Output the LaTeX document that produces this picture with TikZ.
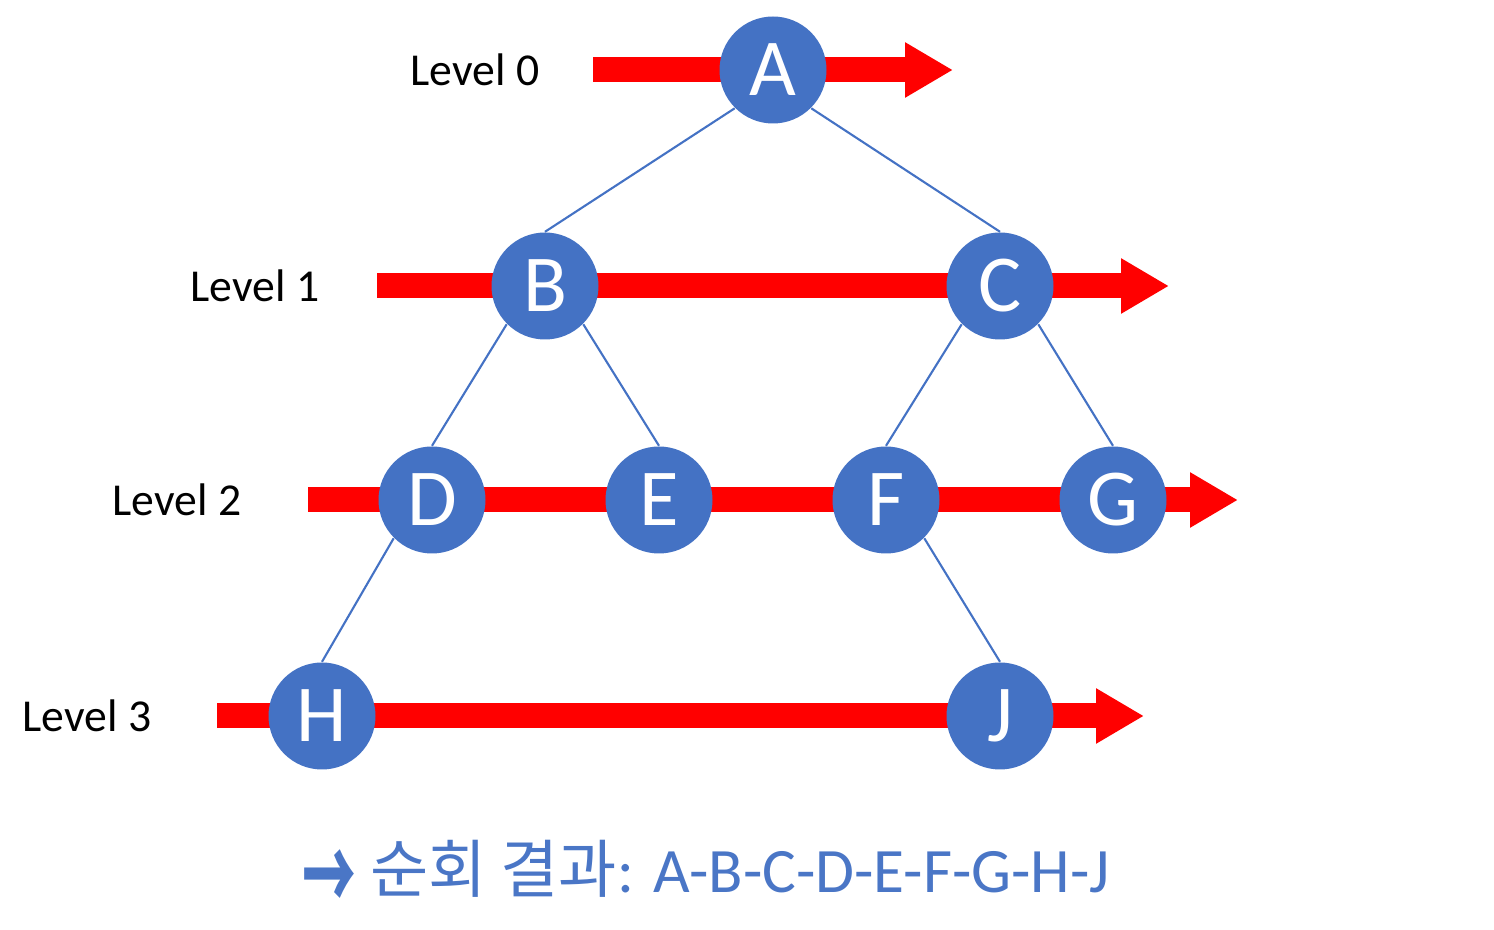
\documentclass[tikz,border=0pt]{standalone}
\usepackage{fontspec}
\setmainfont{Carlito}
\newfontfamily\krfont{Noto Sans CJK KR}
\usepackage{tikz}
\usepackage{xcolor}
\usetikzlibrary{positioning,arrows.meta}
\definecolor{nodeblue}{HTML}{4472C4}
\definecolor{textblue}{HTML}{4A76C6}
\definecolor{levelred}{HTML}{FF0000}
\tikzset{
    vertex/.style={
        circle, fill=nodeblue,
        minimum size=1.07cm, inner sep=0pt,
        text=white, font=\fontsize{23}{26}\selectfont
    },
    levelarrow/.style={
        draw=levelred, line width=0.25cm,
        -{Triangle[length=0.48cm,width=0.52cm]}
    },
    levellabel/.style={
        inner sep=0pt, font=\fontsize{13}{16}\selectfont
    },
    treeedge/.style={
        draw=nodeblue, line width=0.6pt
    }
}
\begin{document}
\begin{tikzpicture}[x=1cm, y=1cm]
        \useasboundingbox (0,0) rectangle (14.94,-9.30);

        % Level arrows
        \coordinate (l0s) at (5.93,-0.70);
        \coordinate (l0e) at (9.53,-0.70);
        \coordinate (l1s) at (3.77,-2.86);
        \coordinate (l1e) at (11.69,-2.86);
        \coordinate (l2s) at (3.08,-5.00);
        \coordinate (l2e) at (12.38,-5.00);
        \coordinate (l3s) at (2.17,-7.16);
        \coordinate (l3e) at (11.44,-7.16);

        \draw[levelarrow] (l0s) -- (l0e);
        \draw[levelarrow] (l1s) -- (l1e);
        \draw[levelarrow] (l2s) -- (l2e);
        \draw[levelarrow] (l3s) -- (l3e);

        % Level labels
        \node[levellabel, left=0.53cm of l0s] (lab0) {Level 0};
        \node[levellabel, left=0.57cm of l1s] (lab1) {Level 1};
        \node[levellabel, left=0.66cm of l2s] (lab2) {Level 2};
        \node[levellabel, left=0.65cm of l3s] (lab3) {Level 3};

        % Tree nodes
        \node[vertex] (A) at (7.73,-0.70) {A};
        \node[vertex] (B) at (5.45,-2.86) {B};
        \node[vertex] (C) at (10.00,-2.86) {C};
        \node[vertex] (D) at (4.32,-5.00) {D};
        \node[vertex] (E) at (6.59,-5.00) {E};
        \node[vertex] (F) at (8.86,-5.00) {F};
        \node[vertex] (G) at (11.13,-5.00) {G};
        \node[vertex] (H) at (3.22,-7.16) {H};
        \node[vertex] (J) at (10.00,-7.16) {J};

        % Edges
        \draw[treeedge] (A.south west) -- (B.north);
        \draw[treeedge] (A.south east) -- (C.north);
        \draw[treeedge] (B.south west) -- (D.north);
        \draw[treeedge] (B.south east) -- (E.north);
        \draw[treeedge] (C.south west) -- (F.north);
        \draw[treeedge] (C.south east) -- (G.north);
        \draw[treeedge] (D.south west) -- (H.north);
        \draw[treeedge] (F.south east) -- (J.north);

        % Result
        \node[text=textblue, font=\fontsize{18}{22}\selectfont] (result) at (7.06,-8.76)
            {{\krfont\raisebox{-0.32em}{\scalebox{0.85}[1.6]{\bfseries →}} 순회 결과}: A-B-C-D-E-F-G-H-J};

    \end{tikzpicture}
\end{document}
